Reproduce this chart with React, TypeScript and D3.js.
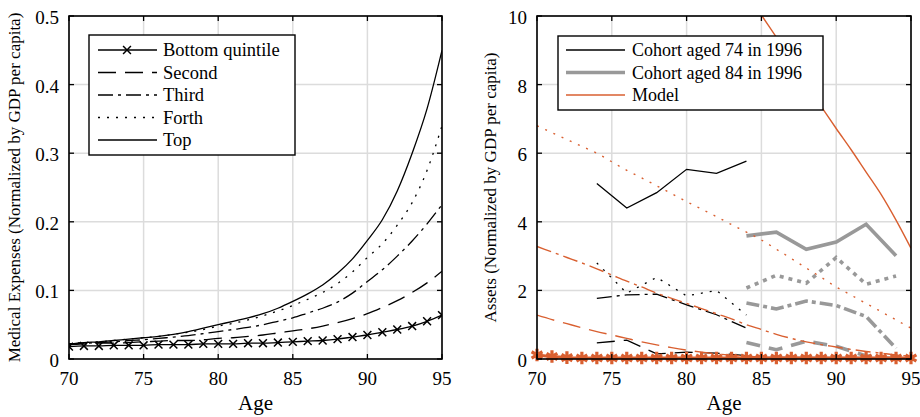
import React from "react";
import * as d3 from "d3";

// ---------- Data ----------
const ages = [70,71,72,73,74,75,76,77,78,79,80,81,82,83,84,85,86,87,88,89,90,91,92,93,94,95];

// Left panel: medical expenses by permanent-income quintile
const medBottom = [0.018,0.019,0.019,0.020,0.020,0.020,0.021,0.021,0.021,0.022,0.022,0.022,0.023,0.023,0.024,0.025,0.026,0.027,0.029,0.032,0.035,0.039,0.043,0.048,0.055,0.064];
const medSecond = [0.021,0.022,0.023,0.023,0.024,0.025,0.026,0.027,0.027,0.028,0.030,0.031,0.033,0.035,0.038,0.041,0.044,0.048,0.053,0.059,0.066,0.075,0.085,0.097,0.111,0.128];
const medThird = [0.022,0.023,0.024,0.025,0.027,0.028,0.030,0.032,0.034,0.037,0.040,0.043,0.046,0.050,0.055,0.060,0.067,0.074,0.083,0.096,0.113,0.130,0.150,0.172,0.197,0.225];
const medForth = [0.022,0.024,0.025,0.027,0.029,0.031,0.033,0.036,0.039,0.043,0.048,0.052,0.057,0.063,0.070,0.078,0.087,0.097,0.110,0.127,0.148,0.168,0.195,0.228,0.275,0.340];
const medTop = [0.022,0.024,0.025,0.027,0.029,0.031,0.033,0.036,0.040,0.045,0.050,0.055,0.060,0.066,0.074,0.084,0.095,0.108,0.125,0.146,0.173,0.203,0.245,0.300,0.365,0.450];
const leftLegend = ["Bottom quintile", "Second", "Third", "Forth", "Top"];

// Right panel: assets, data cohorts
const cohort74Ages = [74,76,78,80,82,84];
const c74Top = [5.12,4.40,4.85,5.53,5.41,5.77];
const c74Forth = [2.80,1.92,2.38,1.84,2.00,1.28];
const c74Third = [1.77,1.87,1.89,1.58,1.29,0.90];
const c74Second = [0.47,0.55,0.15,0.20,0.17,0.10];
const c74Bottom = [0.03,0.03,0.02,0.02,0.02,0.02];

const cohort84Ages = [84,86,88,90,92,94];
const c84Top = [3.59,3.70,3.20,3.41,3.93,3.01];
const c84Forth = [2.07,2.44,2.21,2.96,2.18,2.42];
const c84Third = [1.63,1.46,1.69,1.56,1.24,0.31];
const c84Second = [0.48,0.27,0.52,0.37,0.09,0.00];
const c84Bottom = [0.02,0.02,0.02,0.01,0.01,0.00];

// Right panel: model
const modelTop = [null,null,null,null,null,null,null,null,null,null,null,null,null,null,10.7,10.03,9.38,8.7,8.0,7.36,6.72,6.1,5.45,4.8,4.05,3.23];
const modelForth = [6.8,6.6,6.4,6.2,6.0,5.75,5.5,5.28,5.05,4.82,4.59,4.37,4.15,3.92,3.7,3.47,3.2,2.93,2.65,2.38,2.1,1.86,1.62,1.38,1.14,0.9];
const modelThird = [3.28,3.12,2.96,2.8,2.63,2.45,2.27,2.1,1.92,1.77,1.62,1.47,1.32,1.17,1.0,0.86,0.72,0.6,0.5,0.42,0.35,0.28,0.22,0.17,0.12,0.08];
const modelSecond = [1.28,1.15,1.03,0.91,0.8,0.7,0.6,0.5,0.41,0.33,0.26,0.2,0.15,0.11,0.08,0.06,0.05,0.04,0.03,0.03,0.02,0.02,0.02,0.01,0.01,0.01];
const modelBottom = [0.12,0.07,0.04,0.03,0.03,0.03,0.03,0.03,0.03,0.03,0.03,0.03,0.03,0.03,0.03,0.03,0.03,0.03,0.03,0.03,0.03,0.03,0.03,0.03,0.03,0.03];
const rightLegend = ["Cohort aged 74 in 1996", "Cohort aged 84 in 1996", "Model"];

const xTicks = [70,75,80,85,90,95];
const leftYTicks = [0,0.1,0.2,0.3,0.4,0.5];
const rightYTicks = [0,2,4,6,8,10];

// ---------- Styles ----------
const FONT = "Liberation Serif, DejaVu Serif, Noto Serif, serif";
const ORANGE = "#D95F30";
const GRAY = "#999999";
const DASH = { solid: undefined as any, second: "18,9", third: "15,5,3,5", forth: "2,7" };

function Panel({ x0, x1, y0, y1, yDomain, yTicks, yFmt, ylabel, ylabelX, id }: any) {
  const x = d3.scaleLinear().domain([70, 95]).range([x0, x1]);
  const y = d3.scaleLinear().domain(yDomain).range([y1, y0]);
  const tick = 5;
  return { x, y, frame: (
    <g>
      <defs>
        <clipPath id={id}><rect x={x0} y={y0} width={x1 - x0} height={y1 - y0} /></clipPath>
      </defs>
      <rect x={x0} y={y0} width={x1 - x0} height={y1 - y0} fill="#fff" />
      {xTicks.map((t) => (
        <line key={"gx" + t} x1={x(t)} x2={x(t)} y1={y0} y2={y1} stroke="#dcdcdc" strokeWidth={1.5} />
      ))}
      {yTicks.map((t: number) => (
        <line key={"gy" + t} x1={x0} x2={x1} y1={y(t)} y2={y(t)} stroke="#dcdcdc" strokeWidth={1.5} />
      ))}
    </g>
  ), axes: (
    <g fill="#000">
      <rect x={x0} y={y0} width={x1 - x0} height={y1 - y0} fill="none" stroke="#000" strokeWidth={1.6} />
      {xTicks.map((t) => (
        <g key={"tx" + t}>
          <line x1={x(t)} x2={x(t)} y1={y1} y2={y1 - tick} stroke="#000" strokeWidth={1.3} />
          <line x1={x(t)} x2={x(t)} y1={y0} y2={y0 + tick} stroke="#000" strokeWidth={1.3} />
          <text x={x(t)} y={y1 + 26} textAnchor="middle" fontSize={19} style={{ fontFamily: FONT }}>{t}</text>
        </g>
      ))}
      {yTicks.map((t: number) => (
        <g key={"ty" + t}>
          <line x1={x0} x2={x0 + tick} y1={y(t)} y2={y(t)} stroke="#000" strokeWidth={1.3} />
          <line x1={x1} x2={x1 - tick} y1={y(t)} y2={y(t)} stroke="#000" strokeWidth={1.3} />
          <text x={x0 - 10} y={y(t) + 8} textAnchor="end" fontSize={19} style={{ fontFamily: FONT }}>{yFmt(t)}</text>
        </g>
      ))}
      <text x={(x0 + x1) / 2} y={y1 + 51} textAnchor="middle" fontSize={21} style={{ fontFamily: FONT }}>Age</text>
      <text transform={`translate(${ylabelX},${(y0 + y1) / 2}) rotate(-90)`} textAnchor="middle" fontSize={17} style={{ fontFamily: FONT }}>{ylabel}</text>
    </g>
  ) };
}

function linePath(xs: number[], ys: (number | null)[], x: any, y: any, smooth = false) {
  const pts = xs.map((a, i) => [a, ys[i]] as [number, number | null]);
  return d3.line<[number, number | null]>()
    .defined((d) => d[1] !== null)
    .x((d) => x(d[0]))
    .y((d) => y(d[1] as number))
    .curve(smooth ? d3.curveMonotoneX : d3.curveLinear)(pts) || "";
}

export default function App() {
  const L = Panel({ x0: 69, x1: 442, y0: 16, y1: 359, yDomain: [0, 0.5], yTicks: leftYTicks,
    yFmt: (t: number) => (t === 0 ? "0" : d3.format(".1f")(t)),
    ylabel: "Medical Expenses (Normalized by GDP per capita)", ylabelX: 20, id: "clipL" });
  const R = Panel({ x0: 537, x1: 911, y0: 16, y1: 359, yDomain: [0, 10], yTicks: rightYTicks,
    yFmt: (t: number) => String(t),
    ylabel: "Assets (Normalized by GDP per capita)", ylabelX: 496, id: "clipR" });

  const leftSeries = [
    { v: medTop, dash: DASH.solid },
    { v: medForth, dash: DASH.forth },
    { v: medThird, dash: DASH.third },
    { v: medSecond, dash: DASH.second },
    { v: medBottom, dash: DASH.solid },
  ];
  const timesSym = d3.symbol().type(d3.symbolTimes).size(42)() || "";
  const starSym = d3.symbol().type(d3.symbolAsterisk).size(110)() || "";

  const c74 = [
    { v: c74Top, dash: DASH.solid }, { v: c74Forth, dash: DASH.forth }, { v: c74Third, dash: DASH.third },
    { v: c74Second, dash: DASH.second }, { v: c74Bottom, dash: DASH.solid },
  ];
  const c84 = [
    { v: c84Top, dash: undefined }, { v: c84Forth, dash: "4,5" }, { v: c84Third, dash: "13,4,4,4" },
    { v: c84Second, dash: "14,9" }, { v: c84Bottom, dash: undefined },
  ];
  const model = [
    { v: modelTop, dash: DASH.solid }, { v: modelForth, dash: DASH.forth }, { v: modelThird, dash: DASH.third },
    { v: modelSecond, dash: DASH.second }, { v: modelBottom, dash: DASH.solid },
  ];

  const leftDashes = [DASH.solid, DASH.second, DASH.third, DASH.forth, DASH.solid];
  const rowY = (i: number) => 50 + i * 22.5;

  return (
    <svg width={920} height={417} style={{ position: "absolute", left: 0, top: 0, background: "#fff" }}>
      <rect width={920} height={417} fill="#fff" />
      {/* Left panel */}
      {L.frame}
      <g clipPath="url(#clipL)">
        {leftSeries.map((s, i) => (
          <path key={i} d={linePath(ages, s.v, L.x, L.y, true)} fill="none" stroke="#000" strokeWidth={1.3} strokeDasharray={s.dash} />
        ))}
        {ages.map((a, i) => (
          <path key={"m" + a} d={timesSym} transform={`translate(${L.x(a)},${L.y(medBottom[i])})`} fill="none" stroke="#000" strokeWidth={1.5} />
        ))}
      </g>
      {L.axes}
      {/* Left legend */}
      <g>
        <rect x={89} y={35} width={206} height={120} fill="#fff" stroke="#000" strokeWidth={1.4} />
        {leftLegend.map((name, i) => (
          <g key={name}>
            <line x1={98} x2={157} y1={rowY(i)} y2={rowY(i)} stroke="#000" strokeWidth={1.3} strokeDasharray={leftDashes[i]} />
            {i === 0 && <path d={timesSym} transform={`translate(127,${rowY(i)})`} fill="none" stroke="#000" strokeWidth={1.5} />}
            <text x={163} y={rowY(i) + 6} fontSize={18.5} style={{ fontFamily: FONT }}>{name}</text>
          </g>
        ))}
      </g>

      {/* Right panel */}
      {R.frame}
      <g clipPath="url(#clipR)">
        {c84.map((s, i) => (
          <path key={"g" + i} d={linePath(cohort84Ages, s.v, R.x, R.y)} fill="none" stroke={GRAY} strokeWidth={3.6} strokeDasharray={s.dash} />
        ))}
        {c74.map((s, i) => (
          <path key={"k" + i} d={linePath(cohort74Ages, s.v, R.x, R.y)} fill="none" stroke="#000" strokeWidth={1.3} strokeDasharray={s.dash} />
        ))}
        {model.map((s, i) => (
          <path key={"o" + i} d={linePath(ages, s.v, R.x, R.y, true)} fill="none" stroke={ORANGE} strokeWidth={i === 4 ? 3 : 1.4} strokeDasharray={s.dash} />
        ))}
      </g>
      <g>
        {ages.map((a, i) => (
          <path key={"s" + a} d={starSym} transform={`translate(${R.x(a)},${R.y(modelBottom[i])})`} fill="none" stroke={ORANGE} strokeWidth={3.2} />
        ))}
      </g>
      {R.axes}
      {/* Right legend */}
      <g>
        <rect x={558} y={36} width={265} height={74} fill="#fff" stroke="#000" strokeWidth={1.4} />
        {rightLegend.map((name, i) => (
          <g key={name}>
            <line x1={566} x2={625} y1={rowY(i)} y2={rowY(i)}
              stroke={i === 0 ? "#000" : i === 1 ? GRAY : ORANGE} strokeWidth={i === 1 ? 3.6 : 1.4} />
            <text x={632} y={rowY(i) + 6} fontSize={18} style={{ fontFamily: FONT }}>{name}</text>
          </g>
        ))}
      </g>
    </svg>
  );
}
